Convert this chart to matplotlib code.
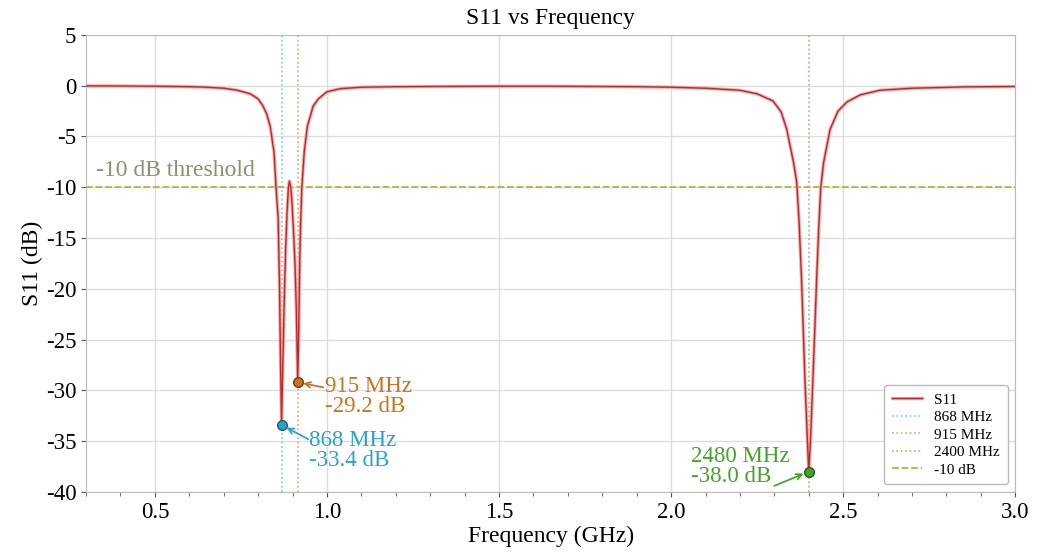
import matplotlib
matplotlib.use("Agg")
import matplotlib.pyplot as plt
from matplotlib.ticker import MultipleLocator, FormatStrFormatter
import matplotlib.patheffects as pe

plt.rcParams['font.family'] = ['Liberation Serif', 'DejaVu Serif']
plt.rcParams['axes.unicode_minus'] = False

# S11 curve (GHz, dB)
freq_ghz = [0.30, 0.40, 0.50, 0.60, 0.65, 0.70, 0.74, 0.777, 0.80, 0.814, 0.825,
            0.835, 0.846, 0.852, 0.858, 0.862, 0.865, 0.868, 0.872, 0.876, 0.880,
            0.884, 0.888, 0.891, 0.895, 0.899, 0.903, 0.907, 0.911, 0.915, 0.918,
            0.921, 0.924, 0.927, 0.934, 0.943, 0.960, 0.975, 0.989, 1.00, 1.038,
            1.10, 1.20, 1.35, 1.50, 1.65, 1.80, 1.90, 2.00, 2.10, 2.20, 2.25,
            2.296, 2.32, 2.336, 2.356, 2.365, 2.372, 2.379, 2.389, 2.395, 2.40,
            2.405, 2.412, 2.423, 2.429, 2.435, 2.443, 2.462, 2.485, 2.511, 2.55,
            2.607, 2.70, 2.85, 3.00]
s11_db = [-0.02, -0.03, -0.05, -0.1, -0.15, -0.25, -0.45, -0.8, -1.3, -2.0, -2.8,
          -4.0, -6.5, -10.0, -13.0, -19.5, -27.0, -33.4, -27.0, -21.0, -16.0,
          -12.5, -10.0, -9.4, -10.0, -11.8, -14.5, -17.5, -22.0, -29.2, -24.0,
          -17.0, -13.0, -10.0, -6.5, -4.0, -2.0, -1.3, -0.9, -0.6, -0.3,
          -0.15, -0.1, -0.07, -0.05, -0.05, -0.08, -0.1, -0.15, -0.25, -0.45, -0.8,
          -1.5, -2.6, -4.3, -7.6, -9.5, -13.5, -19.0, -29.0, -34.0, -38.0,
          -35.0, -29.0, -19.0, -14.0, -10.0, -7.6, -4.3, -2.5, -1.6, -0.9,
          -0.45, -0.25, -0.12, -0.08]

# markers: frequency, value, label, colour
mark_freq = [0.868, 0.915, 2.40]
mark_db = [-33.4, -29.2, -38.0]
mark_text = ["868 MHz\n-33.4 dB", "915 MHz\n-29.2 dB", "2480 MHz\n-38.0 dB"]
mark_color = ["#2aa3c9", "#c8741e", "#45a32a"]
mark_edge = ["#1f5f75", "#6e3f10", "#245a14"]
text_pos = [(0.948, -35.9), (0.995, -30.6), (2.058, -37.5)]
arrow_from = [(0.945, -34.8), (0.989, -29.7), (2.300, -39.4)]

vline_freq = [0.868, 0.915, 2.40]
vline_label = ["868 MHz", "915 MHz", "2400 MHz"]
vline_color = ["#7cc9e0", "#d9a56a", "#8fc07a"]
threshold = -10

fig, ax = plt.subplots(figsize=(10.37, 5.54), dpi=100)
fig.subplots_adjust(left=0.083, right=0.979, top=0.937, bottom=0.112)

ax.grid(True, color="#dddddd", linewidth=1.0)
ax.set_axisbelow(True)

ax.plot(freq_ghz, s11_db, color="#c02828", linewidth=1.0, label="S11",
        path_effects=[pe.Stroke(linewidth=2.4, foreground="#f4a8a8"), pe.Normal()],
        zorder=4)
for f, lab, c in zip(vline_freq, vline_label, vline_color):
    ax.axvline(f, color=c, linestyle=":", linewidth=1.2, label=lab, zorder=2)
ax.axhline(threshold, color="#b8b040", linestyle="--", linewidth=1.3,
           label="-10 dB", zorder=3)
ax.text(0.33, -9.4, "-10 dB threshold", color="#8a9070", fontsize=17,
        ha="left", va="bottom")

for f, v, t, c, ec, (tx, ty), (ax0, ay0) in zip(mark_freq, mark_db, mark_text,
                                                 mark_color, mark_edge, text_pos,
                                                 arrow_from):
    ax.plot(f, v, "o", color=c, markeredgecolor=ec, markersize=7, zorder=6)
    ax.text(tx, ty, t, color=c, fontsize=16.5, ha="left", va="center",
            linespacing=0.9)
    ax.annotate("", xy=(f, v), xytext=(ax0, ay0),
                arrowprops=dict(arrowstyle="->", color=c, lw=1.3,
                                shrinkA=0, shrinkB=4))

ax.set_xlim(0.3, 3.0)
ax.set_ylim(-40, 5)
ax.xaxis.set_major_locator(MultipleLocator(0.5))
ax.xaxis.set_minor_locator(MultipleLocator(0.1))
ax.yaxis.set_major_locator(MultipleLocator(5))
ax.xaxis.set_major_formatter(FormatStrFormatter("%.1f"))
ax.tick_params(labelsize=16.5, color="#555555")
ax.tick_params(which="minor", length=3, color="#555555")

for s in ax.spines.values():
    s.set_color("#bbbbbb")

ax.set_title("S11 vs Frequency", fontsize=17, pad=8)
ax.set_xlabel("Frequency (GHz)", fontsize=17, labelpad=2)
ax.set_ylabel("S11 (dB)", fontsize=17, labelpad=2)

leg = ax.legend(loc="lower right", fontsize=11, framealpha=1, edgecolor="#bbbbbb",
                handlelength=2.0, labelspacing=0.25, borderpad=0.5)
leg.get_frame().set_linewidth(1.0)

fig.savefig("out.png", dpi=100)
